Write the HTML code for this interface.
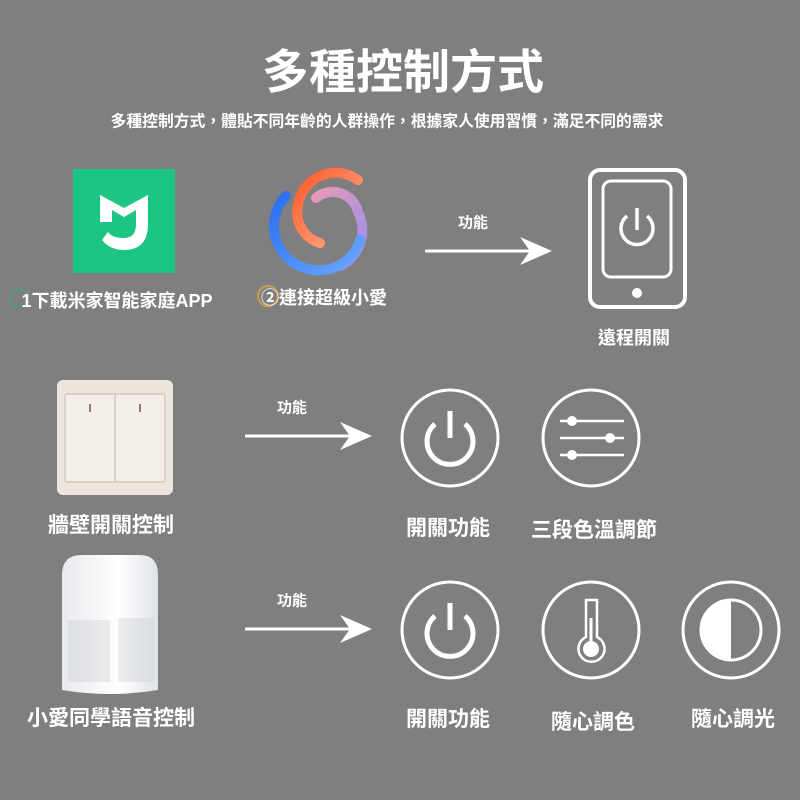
<!DOCTYPE html>
<html><head><meta charset="utf-8"><style>
body{margin:0;width:800px;height:800px;background:#7f7f7f;position:relative;overflow:hidden;font-family:"Liberation Sans","Noto Sans CJK TC",sans-serif;color:#fff;font-weight:bold}
.t{position:absolute;white-space:nowrap;transform:translate(-50%,-50%)}
svg{position:absolute;left:0;top:0}
</style></head><body>
<svg width="800" height="800" viewBox="0 0 800 800">
<defs>
<linearGradient id="g1" x1="0" y1="0" x2="1" y2="1"><stop offset="0" stop-color="#ff5a2a"/><stop offset="1" stop-color="#ffb08a"/></linearGradient>
<linearGradient id="g2" x1="0" y1="0" x2="1" y2="1"><stop offset="0" stop-color="#e89ab5"/><stop offset="1" stop-color="#9a8ef0"/></linearGradient>
<linearGradient id="g3" x1="0" y1="0" x2="1" y2="1"><stop offset="0" stop-color="#2a6ef0"/><stop offset="1" stop-color="#6aa8ff"/></linearGradient>
<linearGradient id="sp" x1="0" y1="0" x2="1" y2="0"><stop offset="0" stop-color="#e8eaed"/><stop offset="0.6" stop-color="#ffffff"/><stop offset="1" stop-color="#dfe2e6"/></linearGradient>
</defs>
<rect x="73" y="169" width="102" height="104" fill="#1dc585"/>
<path d="M100 195 L100 222 L112 222 L112 210 L124 217 L136 210 L136 224 Q136 238 124 238 Q112 238 108 232 L102 240 Q110 250 124 250 Q148 250 148 224 L148 195 L124 208 Z" fill="#fff"/>
<g fill="none" stroke-width="10" stroke-linecap="round">
<path d="M358 180 A38 38 0 0 0 298 205 A32 32 0 0 0 320 243" stroke="url(#g1)"/>
<path d="M316 198 A26 26 0 0 1 358 212 A40 40 0 0 1 340 266" stroke="url(#g2)"/>
<path d="M286 196 A44 44 0 0 0 322 270 A42 42 0 0 0 360 240" stroke="url(#g3)"/>
</g>
<circle cx="19" cy="298" r="9" fill="none" stroke="#2ab886" stroke-width="1.5" opacity="0.7"/>
<circle cx="268" cy="296" r="10" fill="none" stroke="#c9a050" stroke-width="2.5" opacity="0.8"/>
<g stroke="#fff" stroke-width="3" fill="#fff">
<line x1="425" y1="251" x2="540" y2="251"/>
<path d="M552 251 L520 237 L530 251 L520 265 Z" stroke="none"/>
<line x1="245" y1="436" x2="358" y2="436"/>
<path d="M372 436 L340 422 L350 436 L340 450 Z" stroke="none"/>
<line x1="245" y1="629" x2="358" y2="629"/>
<path d="M372 629 L340 615 L350 629 L340 643 Z" stroke="none"/>
</g>
<g fill="none" stroke="#fff" stroke-width="4">
<rect x="590" y="170" width="95" height="137" rx="10"/>
<rect x="603" y="181" width="68" height="96" rx="8" stroke-width="3"/>
<path d="M627 216 A16 16 0 1 0 647 216" stroke-width="3.5"/>
<line x1="637" y1="208" x2="637" y2="230" stroke-width="3.5"/>
</g>
<circle cx="637" cy="293" r="5" fill="#fff"/>
<rect x="57" y="380" width="116" height="115" rx="6" fill="#ece6dc"/>
<rect x="64" y="393" width="102" height="90" rx="3" fill="#d9d2c7"/>
<rect x="66" y="395" width="48" height="86" fill="#f3efe8"/>
<rect x="116" y="395" width="48" height="86" fill="#f3efe8"/>
<rect x="89" y="404" width="2" height="8" fill="#8a7a6a"/>
<rect x="139" y="404" width="2" height="8" fill="#8a7a6a"/>
<path d="M62 575 Q62 555 82 555 L140 555 Q158 555 158 575 L158 690 Q110 698 62 690 Z" fill="url(#sp)"/>
<g fill="#c9ccd0" opacity="0.35">
<rect x="68" y="620" width="42" height="62"/>
<rect x="118" y="618" width="36" height="64"/>
</g>
<g fill="none" stroke="#fff" stroke-width="3">
<circle cx="450" cy="438" r="48"/>
<circle cx="591" cy="438" r="48"/>
<circle cx="450" cy="630" r="48"/>
<circle cx="591" cy="630" r="48"/>
<circle cx="731" cy="630" r="48"/>
<path d="M435 424 A23 23 0 1 0 465 424" stroke-width="5"/>
<line x1="450" y1="411" x2="450" y2="438" stroke-width="5"/>
<path d="M435 616 A23 23 0 1 0 465 616" stroke-width="5"/>
<line x1="450" y1="603" x2="450" y2="630" stroke-width="5"/>
<line x1="560" y1="421" x2="624" y2="421" stroke-width="2.5"/>
<line x1="560" y1="438" x2="624" y2="438" stroke-width="2.5"/>
<line x1="560" y1="455" x2="624" y2="455" stroke-width="2.5"/>
<path d="M586 600 L597 600 L597 637 A13 13 0 1 1 586 637 Z" stroke-width="2.5"/>
<line x1="591" y1="618" x2="591" y2="645" stroke-width="3"/>
<circle cx="731" cy="630" r="30"/>
</g>
<g fill="#fff">
<circle cx="572" cy="421" r="5"/><circle cx="610" cy="438" r="5"/><circle cx="572" cy="455" r="5"/>
<circle cx="591" cy="649" r="8"/>
<path d="M731 600 A30 30 0 0 0 731 660 Z"/>
</g>
</svg>
<div class="t" style="left:403px;top:68px;font-size:47px">多種控制方式</div>
<div class="t" style="left:387px;top:120px;font-size:15.8px">多種控制方式，體貼不同年齡的人群操作，根據家人使用習慣，滿足不同的需求</div>
<div class="t" style="left:117px;top:300px;font-size:18px">1下載米家智能家庭APP</div>
<div class="t" style="left:324px;top:297px;font-size:18px">②連接超級小愛</div>
<div class="t" style="left:473px;top:222px;font-size:15px">功能</div>
<div class="t" style="left:634px;top:337px;font-size:18px">遠程開關</div>
<div class="t" style="left:111px;top:524px;font-size:21px">牆壁開關控制</div>
<div class="t" style="left:292px;top:407px;font-size:15px">功能</div>
<div class="t" style="left:448px;top:527px;font-size:21px">開關功能</div>
<div class="t" style="left:594px;top:529px;font-size:21px">三段色溫調節</div>
<div class="t" style="left:111px;top:717px;font-size:21px">小愛同學語音控制</div>
<div class="t" style="left:292px;top:600px;font-size:15px">功能</div>
<div class="t" style="left:448px;top:718px;font-size:21px">開關功能</div>
<div class="t" style="left:593px;top:721px;font-size:21px">隨心調色</div>
<div class="t" style="left:733px;top:718px;font-size:21px">隨心調光</div>
</body></html>
